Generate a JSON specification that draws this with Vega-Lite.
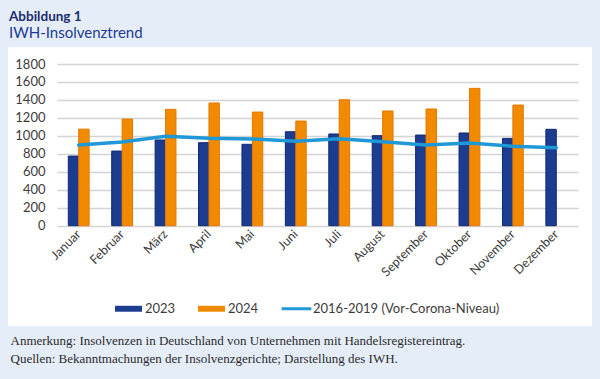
{
  "$schema": "https://vega.github.io/schema/vega-lite/v6.json",
  "autosize": {"type": "none"},
  "width": 584,
  "height": 279,
  "padding": {"left": 8, "top": 47, "right": 8, "bottom": 53},
  "background": "#e5edf8",
  "view": {"fill": "white", "stroke": null},
  "title": {
    "text": "Abbildung 1",
    "subtitle": "IWH-Insolvenztrend",
    "anchor": "start",
    "frame": "group",
    "offset": 6,
    "font": "Lato",
    "fontSize": 13.5,
    "fontWeight": "bold",
    "color": "#1b2c6e",
    "subtitleFont": "Lato",
    "subtitleFontSize": 15,
    "subtitleColor": "#1f3a93",
    "subtitlePadding": 3,
    "dx": 1
  },
  "data": {
    "values": [
      {"Monat": "Januar", "Serie": "2023", "Wert": 775},
      {"Monat": "Januar", "Serie": "2024", "Wert": 1075},
      {"Monat": "Januar", "Serie": "2016-2019 (Vor-Corona-Niveau)", "Wert": 898},
      {"Monat": "Februar", "Serie": "2023", "Wert": 831},
      {"Monat": "Februar", "Serie": "2024", "Wert": 1187},
      {"Monat": "Februar", "Serie": "2016-2019 (Vor-Corona-Niveau)", "Wert": 932},
      {"Monat": "März", "Serie": "2023", "Wert": 954},
      {"Monat": "März", "Serie": "2024", "Wert": 1295},
      {"Monat": "März", "Serie": "2016-2019 (Vor-Corona-Niveau)", "Wert": 995},
      {"Monat": "April", "Serie": "2023", "Wert": 924},
      {"Monat": "April", "Serie": "2024", "Wert": 1366},
      {"Monat": "April", "Serie": "2016-2019 (Vor-Corona-Niveau)", "Wert": 973},
      {"Monat": "Mai", "Serie": "2023", "Wert": 906},
      {"Monat": "Mai", "Serie": "2024", "Wert": 1265},
      {"Monat": "Mai", "Serie": "2016-2019 (Vor-Corona-Niveau)", "Wert": 965},
      {"Monat": "Juni", "Serie": "2023", "Wert": 1046},
      {"Monat": "Juni", "Serie": "2024", "Wert": 1165},
      {"Monat": "Juni", "Serie": "2016-2019 (Vor-Corona-Niveau)", "Wert": 939},
      {"Monat": "Juli", "Serie": "2023", "Wert": 1021},
      {"Monat": "Juli", "Serie": "2024", "Wert": 1402},
      {"Monat": "Juli", "Serie": "2016-2019 (Vor-Corona-Niveau)", "Wert": 968},
      {"Monat": "August", "Serie": "2023", "Wert": 1002},
      {"Monat": "August", "Serie": "2024", "Wert": 1277},
      {"Monat": "August", "Serie": "2016-2019 (Vor-Corona-Niveau)", "Wert": 935},
      {"Monat": "September", "Serie": "2023", "Wert": 1009},
      {"Monat": "September", "Serie": "2024", "Wert": 1299},
      {"Monat": "September", "Serie": "2016-2019 (Vor-Corona-Niveau)", "Wert": 898},
      {"Monat": "Oktober", "Serie": "2023", "Wert": 1032},
      {"Monat": "Oktober", "Serie": "2024", "Wert": 1529},
      {"Monat": "Oktober", "Serie": "2016-2019 (Vor-Corona-Niveau)", "Wert": 920},
      {"Monat": "November", "Serie": "2023", "Wert": 972},
      {"Monat": "November", "Serie": "2024", "Wert": 1343},
      {"Monat": "November", "Serie": "2016-2019 (Vor-Corona-Niveau)", "Wert": 884},
      {"Monat": "Dezember", "Serie": "2023", "Wert": 1073},
      {"Monat": "Dezember", "Serie": "2016-2019 (Vor-Corona-Niveau)", "Wert": 868}
    ]
  },
  "encoding": {
    "x": {
      "field": "Monat",
      "type": "nominal",
      "sort": ["Januar", "Februar", "März", "April", "Mai", "Juni", "Juli", "August", "September", "Oktober", "November", "Dezember"],
      "scale": {"range": [49, 570], "paddingInner": 0.52, "paddingOuter": 0.26},
      "axis": {
        "orient": "bottom",
        "offset": -100.3,
        "labelAngle": -45,
        "labelAlign": "right",
        "labelBaseline": "middle",
        "labelPadding": 6,
        "labelFont": "Lato",
        "labelFontSize": 12.5,
        "labelColor": "#3c3c3c",
        "ticks": false,
        "domain": false,
        "title": [
          "Anmerkung: Insolvenzen in Deutschland von Unternehmen mit Handelsregistereintrag.",
          "Quellen: Bekanntmachungen der Insolvenzgerichte; Darstellung des IWH."
        ],
        "titleX": 2,
        "titleY": 119,
        "titleAlign": "left",
        "titleAnchor": null,
        "titleAngle": 0,
        "titleBaseline": "alphabetic",
        "titleFont": "Liberation Serif",
        "titleFontSize": 13,
        "titleFontWeight": "normal",
        "titleColor": "#2b2b2b",
        "titleLineHeight": 17.5
      }
    },
    "y": {
      "field": "Wert",
      "type": "quantitative",
      "scale": {"domain": [0, 1800], "range": [178.7, 17], "nice": false},
      "axis": {
        "orient": "left",
        "offset": -49,
        "values": [0, 200, 400, 600, 800, 1000, 1200, 1400, 1600, 1800],
        "format": "d",
        "labelPadding": 12,
        "labelFont": "Lato",
        "labelFontSize": 13,
        "labelColor": "#3c3c3c",
        "ticks": false,
        "domain": false,
        "grid": true,
        "gridColor": "#d4d4d4",
        "gridWidth": 1.3,
        "title": null
      }
    },
    "color": {
      "field": "Serie",
      "type": "nominal",
      "scale": {
        "domain": ["2023", "2024", "2016-2019 (Vor-Corona-Niveau)"],
        "range": ["#1c3d8f", "#f28a00", "#1e98d6"]
      },
      "legend": {
        "title": null,
        "orient": "none",
        "direction": "horizontal",
        "legendX": 107,
        "legendY": 248,
        "symbolSize": 729,
        "labelFont": "Lato",
        "labelFontSize": 13,
        "labelColor": "#3c3c3c",
        "labelLimit": 0,
        "labelOffset": 3,
        "columnPadding": 22,
        "padding": 0,
        "encode": {
          "symbols": {
            "update": {
              "shape": {"signal": "datum.label === '2016-2019 (Vor-Corona-Niveau)' ? 'M-1.1,-0.11H1.1V0.11H-1.1Z' : 'M-1,-0.22H1V0.22H-1Z'"},
              "fill": {"signal": "scale('color', datum.value)"},
              "stroke": {"signal": "scale('color', datum.value)"},
              "strokeWidth": {"value": 0},
              "opacity": {"value": 1}
            }
          }
        }
      }
    }
  },
  "layer": [
    {
      "transform": [{"filter": "datum.Serie !== '2016-2019 (Vor-Corona-Niveau)'"}],
      "mark": {"type": "bar", "strokeWidth": 1},
      "encoding": {
        "xOffset": {"field": "Serie", "type": "nominal", "scale": {"domain": ["2023", "2024"], "paddingInner": 0, "paddingOuter": 0}},
        "stroke": {
          "field": "Serie",
          "type": "nominal",
          "scale": {"domain": ["2023", "2024"], "range": ["#0e2877", "#e67800"]},
          "legend": null
        }
      }
    },
    {
      "transform": [{"filter": "datum.Serie === '2016-2019 (Vor-Corona-Niveau)'"}],
      "mark": {"type": "line", "strokeWidth": 3.5, "strokeCap": "round"},
      "encoding": {}
    }
  ]
}
